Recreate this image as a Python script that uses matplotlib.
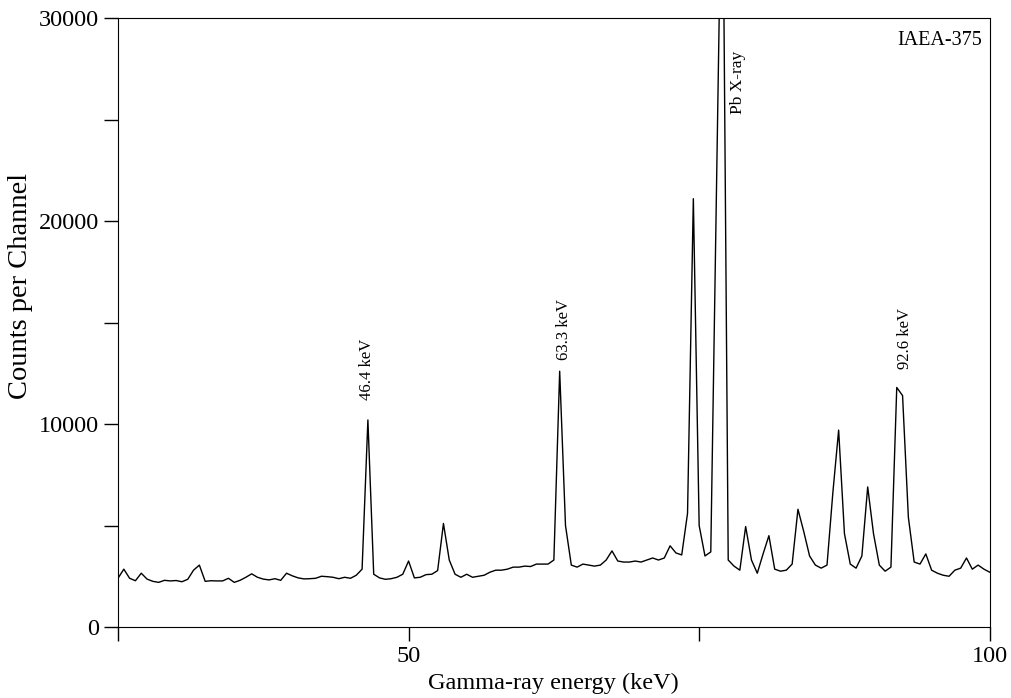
import numpy as np
import matplotlib
matplotlib.use("Agg")
import matplotlib.pyplot as plt

plt.rcParams['font.family'] = ['Liberation Serif', 'DejaVu Serif']

# Spectro gamma IAEA-375, canales de 0.5 keV desde 25 keV
e0 = 25.0
paso = 0.5
cuentas = [
    2400, 2850, 2400, 2280, 2650, 2360, 2250, 2200, 2300, 2270,
    2290, 2230, 2350, 2800, 3050, 2250, 2280, 2270, 2270, 2400,
    2200, 2300, 2450, 2620, 2450, 2360, 2320, 2380, 2300, 2650,
    2520, 2420, 2370, 2380, 2400, 2500, 2480, 2450, 2380, 2450,
    2400, 2550, 2850, 10200, 2600, 2420, 2350, 2380, 2450, 2600,
    3250, 2420, 2450, 2580, 2600, 2780, 5100, 3300, 2600, 2450,
    2600, 2450, 2500, 2550, 2700, 2800, 2800, 2850, 2950, 2950,
    3000, 2980, 3100, 3100, 3100, 3300, 12600, 5000, 3050, 2950,
    3100, 3050, 3000, 3050, 3300, 3750, 3250, 3200, 3200, 3250,
    3200, 3300, 3400, 3300, 3400, 4000, 3650, 3550, 5600, 21100,
    5000, 3500, 3700, 22000, 40000, 3300, 3000, 2800, 4950, 3300,
    2650, 3600, 4500, 2850, 2750, 2800, 3100, 5800, 4700, 3500,
    3050, 2900, 3050, 6600, 9700, 4600, 3100, 2900, 3500, 6900,
    4600, 3050, 2750, 2950, 11800, 11400, 5400, 3200, 3100, 3600,
    2800, 2650, 2550, 2500, 2800, 2900, 3400, 2850, 3050, 2850,
    2700,
]
energia = e0 + paso * np.arange(len(cuentas))

# Etiquetas de picos
picos_txt = ["46.4 keV", "63.3 keV", "92.6 keV"]
picos_x = [46.4, 63.4, 92.7]
picos_y = [11200, 13150, 12700]

fig = plt.figure(figsize=(10.12, 6.98), dpi=100)
ax = fig.add_axes([0.1166, 0.1017, 0.8614, 0.8725])

ax.plot(energia, cuentas, color="black", lw=1.0)

ax.set_xlim(25, 100)
ax.set_ylim(0, 30000)
ax.set_xticks([25, 50, 75, 100])
ax.set_xticklabels(['', '50', '', '100'])
ax.set_yticks([0, 10000, 20000, 30000])
ax.set_yticks([5000, 15000, 25000], minor=True)
ax.tick_params(axis='both', which='both', direction='out', length=10,
               width=1.0, labelsize=17.5)
ax.tick_params(top=False, right=False)

ax.set_xlabel('Gamma-ray energy (keV)', fontsize=17.5, labelpad=4)
ax.set_ylabel('Counts per Channel', fontsize=20.5)
ax.yaxis.set_label_coords(-0.097, 0.56)

for t, x, y in zip(picos_txt, picos_x, picos_y):
    ax.text(x, y, t, rotation=90, ha='center', va='bottom', fontsize=12)
ax.text(78.3, 28400, "Pb X-ray", rotation=90, ha='center', va='top', fontsize=12.5)
ax.text(99.3, 28900, "IAEA-375", ha='right', va='center', fontsize=14.5)

plt.savefig("out.png", dpi=100)
plt.close()
